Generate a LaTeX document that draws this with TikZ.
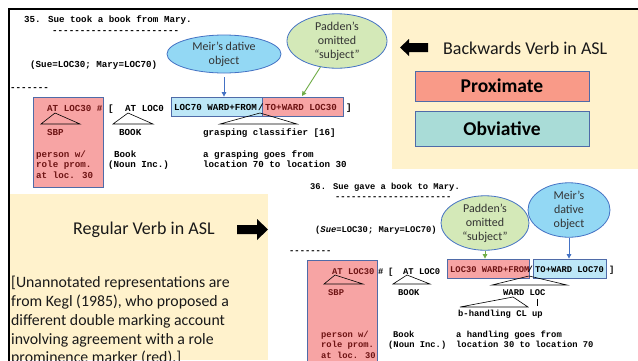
\documentclass[tikz,border=0pt]{standalone}
\usepackage{fontspec}
\setmainfont{Carlito}
\newfontfamily\monof{Liberation Mono}
\usetikzlibrary{shapes.geometric,arrows.meta}
\definecolor{beige}{HTML}{FFF2CC}
\definecolor{boxred}{HTML}{F7A4A4}
\definecolor{boxblue}{HTML}{BDE7F7}
\definecolor{edgeblue}{HTML}{4F6BA8}
\definecolor{proxfill}{HTML}{F99A88}
\definecolor{obvfill}{HTML}{A9DCD7}
\definecolor{meirfill}{HTML}{93D8F4}
\definecolor{padfill}{HTML}{D4E9B8}
\definecolor{arrblue}{HTML}{4472C4}
\definecolor{arrgreen}{HTML}{70AD47}
\definecolor{redtext}{HTML}{6E1414}
\tikzset{
  mA/.style={anchor=base west, inner sep=0, font=\monof\bfseries\fontsize{9.2}{10.5}\selectfont},
  mB/.style={anchor=base west, inner sep=0, font=\monof\bfseries\fontsize{8.8}{10}\selectfont},
  hlbox/.style={draw=edgeblue, line width=0.8pt},
  bubble/.style={ellipse, draw=arrblue, line width=0.8pt, inner sep=0, align=center, font=\fontsize{12}{14}\selectfont, text=black!80},
  tree/.style={line width=0.6pt, black},
  barrow/.style={draw=arrblue, line width=0.9pt, -{Triangle[length=4.5pt,width=4.5pt]}},
  garrow/.style={draw=arrgreen, line width=0.9pt, -{Triangle[length=4.5pt,width=4.5pt]}},
  labelbox/.style={rectangle, draw=edgeblue, line width=0.8pt, minimum width=174pt, inner sep=0, font=\bfseries\fontsize{19.5}{21}\selectfont},
  para/.style={anchor=base west, inner sep=0, font=\fontsize{15.8}{19}\selectfont, text=black!90},
  big/.style={anchor=west, inner sep=0, font=\fontsize{18}{20}\selectfont, text=black!90},
}
\begin{document}
\begin{tikzpicture}[x=1pt,y=-1pt]
\useasboundingbox (0,0) rectangle (638,360);
\fill[white] (0,0) rectangle (638,360);
% panels
\fill[beige] (392,10) rectangle (638,169);
\fill[beige] (10,194) rectangle (268,360);
\draw[line width=2pt] (9,361) -- (9,9) -- (638,9);

% ---------- Example 35 ----------
\node[mA] (t35) at (24,22) {35. Sue took a book from Mary.};
\node[mA] (d35) at (52,33) {-----------------------};
\node[mA] (s35) at (30,67) {(Sue=LOC30; Mary=LOC70)};
\node[mA] (dd35) at (10,90) {-------};
\filldraw[hlbox, fill=boxred] (33,97) rectangle (103,187);
\node[mA, text=redtext] (at30A) at (47,111) {AT LOC30 \#};
\node[mA] (brA) at (108,111) {[};
\node[mA] (at0A) at (125,111) {AT LOC0};
\draw[tree] (55,113) -- (41,124) -- (80,124) -- cycle;
\draw[tree] (128,113) -- (113,124) -- (153,124) -- cycle;
\node[mA, text=redtext] (sbpA) at (47,135) {SBP};
\node[mA] (bookA) at (119,135) {BOOK};
\node[hlbox, fill=boxblue, rectangle, minimum width=91pt, minimum height=19pt, inner sep=0] (bA) at (216.5,106.5) {};
\node[hlbox, fill=boxred, rectangle, minimum width=81pt, minimum height=19pt, inner sep=0] (rA) at (302.5,106.5) {};
\node[mA] (wfA) at (174,110) {LOC70 WARD+FROM};
\node[mA] (slA) at (258,110) {/};
\node[mA, text=redtext] (twA) at (265,110) {TO+WARD LOC30};
\node[mA] (cbA) at (346,110) {]};
\draw[tree] (260,113) -- (220,124) -- (297,124) -- cycle;
\node[mA] (grA) at (203,135) {grasping classifier [16]};
\node[mA, text=redtext] (p1A) at (36,157) {person w/};
\node[mA, text=redtext] (p2A) at (36,167.5) {role prom.};
\node[mA, text=redtext] (p3A) at (36,178) {at loc. 30};
\node[mA] (bkA) at (114,157) {Book};
\node[mA] (niA) at (108,167.5) {(Noun Inc.)};
\node[mA] (g1A) at (203,157) {a grasping goes from};
\node[mA] (g2A) at (203,167.5) {location 70 to location 30};
% bubbles 35
\node[bubble, fill=meirfill, minimum width=114pt, minimum height=38pt] (meirA) at (224,54) {Meir’s dative\\object};
\node[bubble, fill=padfill, minimum width=100pt, minimum height=46pt] (padA) at (337,41) {Padden’s\\omitted\\“subject”};
\draw[barrow, shorten <=4pt] (meirA.south) -- (meirA.south |- bA.north);
\coordinate (gA) at (302,96);
\draw[garrow] (padA) -- (gA);

% ---------- right top panel ----------
\fill[black] (400,47.5) -- (409,39) -- (409,43) -- (428,43) -- (428,52) -- (409,52) -- (409,56) -- cycle;
\node[big] (bw) at (443,48) {Backwards Verb in ASL};
\node[labelbox, fill=proxfill, minimum height=30pt] (prox) at (502,86) {Proximate};
\node[labelbox, fill=obvfill, minimum height=35pt] (obv) at (502,128.5) {Obviative};

% ---------- lower left panel ----------
\node[big] (reg) at (73,230) {Regular Verb in ASL};
\fill[black] (237,225) -- (257,225) -- (257,219) -- (268,229.5) -- (257,240) -- (257,234) -- (237,234) -- cycle;
\node[para] (q1) at (11,287) {[Unannotated representations are};
\node[para] (q2) at (11,306) {from Kegl (1985), who proposed a};
\node[para] (q3) at (11,325) {different double marking account};
\node[para] (q4) at (11,344) {involving agreement with a role};
\node[para] (q5) at (11,362) {prominence marker (red).]};

% ---------- Example 36 ----------
\node[mB] (t36) at (310,189) {36. Sue gave a book to Mary.};
\node[mB] (d36) at (335,199) {----------------------};
\node[mB] (s36) at (315,232) {(\textit{Sue}=LOC30; Mary=LOC70)};
\node[mB] (dd36) at (289,253) {--------};
\filldraw[hlbox, fill=boxred] (307,260) rectangle (377,365);
\node[mB, text=redtext] (at30B) at (332,274) {AT LOC30};
\node[mB] (hsB) at (378,274) {\#};
\node[mB] (brB) at (388,274) {[};
\node[mB] (at0B) at (403,274) {AT LOC0};
\draw[tree] (335,275) -- (324,284) -- (363,284) -- cycle;
\draw[tree] (407,275) -- (393,284) -- (430,284) -- cycle;
\node[mB, text=redtext] (sbpB) at (328,295) {SBP};
\node[mB] (bookB) at (398,295) {BOOK};
\node[hlbox, fill=boxred, rectangle, minimum width=82pt, minimum height=19pt, inner sep=0] (rB) at (488,268.5) {};
\node[hlbox, fill=boxblue, rectangle, minimum width=73pt, minimum height=19pt, inner sep=0] (bB) at (569.5,268.5) {};
\node[mB, text=redtext] (wfB) at (450,272) {LOC30 WARD+FROM};
\node[mB] (slB) at (527.5,272) {/};
\node[mB] (twB) at (535,272) {TO+WARD LOC70};
\node[mB] (cbB) at (609,272) {]};
\draw[tree] (529,276) -- (492,285) -- (567,285) -- cycle;
\node[mB] (wlB) at (503,295) {WARD LOC};
\draw[tree] (513,297) -- (460,307) -- (528,307) -- cycle;
\draw[tree] (537,299) -- (537,306);
\node[mB] (bhB) at (458,316) {b-handling CL up};
\node[mB, text=redtext] (p1B) at (321,337) {person w/};
\node[mB, text=redtext] (p2B) at (321,347.5) {role prom.};
\node[mB, text=redtext] (p3B) at (321,358) {at loc. 30};
\node[mB] (bkB) at (393,337) {Book};
\node[mB] (niB) at (388,347.5) {(Noun Inc.)};
\node[mB] (h1B) at (456,337) {a handling goes from};
\node[mB] (h2B) at (456,347.5) {location 30 to location 70};
% bubbles 36
\node[bubble, fill=meirfill, minimum width=82pt, minimum height=46pt] (meirB) at (569,210) {Meir’s\\dative\\object};
\node[bubble, fill=padfill, minimum width=88pt, minimum height=44pt] (padB) at (485,223) {Padden’s\\omitted\\“subject”};
\draw[garrow] (padB.south) -- (padB.south |- rB.north);
\draw[barrow] (meirB.south) -- (meirB.south |- bB.north);
\end{tikzpicture}
\end{document}
